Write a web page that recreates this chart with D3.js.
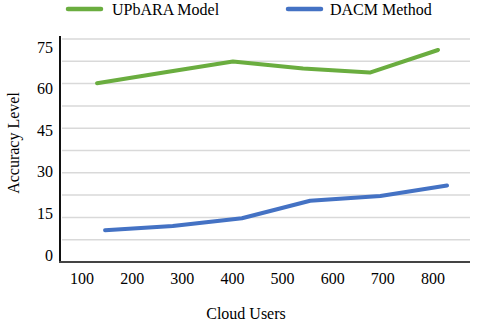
<!DOCTYPE html>
<html>
<head>
<meta charset="utf-8">
<script src="https://cdn.jsdelivr.net/npm/d3@7"></script>
<style>
  body { margin: 0; background: #fff; }
  text { font-family: "Liberation Serif", "Times New Roman", serif; fill: #000; }
</style>
</head>
<body>
<div id="chart"></div>
<script>

// tick labels
var userTicks = [100, 200, 300, 400, 500, 600, 700, 800];
var accTicks = [0, 15, 30, 45, 60, 75];

var upbaraUsers = [130, 266, 401, 541, 674, 810];
var upbaraAcc = [60.1, 63.8, 67.4, 65.1, 63.7, 71.3];

var dacmUsers = [146, 281, 419, 555, 695, 828];
var dacmAcc = [10.7, 12.1, 14.7, 20.6, 22.2, 25.7];

var seriesNames = ["UPbARA Model", "DACM Method"];
var seriesColors = ["#6aad3f", "#4472c4"];

function drawChart() {

	var width = 478;
	var height = 326;

	var svg = d3.select("div#chart")
		.append("svg")
		.attr("width", width)
		.attr("height", height);

	var x = d3.scaleLinear()
		.domain([100, 800])
		.range([82, 433]);

	// grid + lines scale
	var y = d3.scaleLinear()
		.domain([0, 75])
		.range([262, 39]);

	// the tick labels in the figure sit on a slightly tighter spacing
	var yLabel = d3.scaleLinear()
		.domain([0, 75])
		.range([255, 47]);

	// gridlines every 7.5
	var gridVals = d3.range(1, 11).map(function(i) { return i * 7.5; });
	svg.append("g")
		.selectAll("line")
		.data(gridVals)
		.enter()
		.append("line")
		.attr("x1", 62)
		.attr("x2", 470)
		.attr("y1", function(d) { return y(d); })
		.attr("y2", function(d) { return y(d); })
		.style("stroke", "#d9d9d9")
		.style("stroke-width", 1.5);

	// axis lines
	svg.append("line")
		.attr("x1", 60).attr("x2", 60)
		.attr("y1", 36).attr("y2", y(0))
		.style("stroke", "#111")
		.style("stroke-width", 2);

	svg.append("line")
		.attr("x1", 59).attr("x2", 470)
		.attr("y1", y(0)).attr("y2", y(0))
		.style("stroke", "#444")
		.style("stroke-width", 2);

	// y tick labels
	svg.append("g")
		.selectAll("text")
		.data(accTicks)
		.enter()
		.append("text")
		.attr("x", 53)
		.attr("y", function(d) { return yLabel(d); })
		.attr("dy", "0.35em")
		.attr("text-anchor", "end")
		.style("font-size", "16px")
		.text(function(d) { return d; });

	// x tick labels
	svg.append("g")
		.selectAll("text")
		.data(userTicks)
		.enter()
		.append("text")
		.attr("x", function(d) { return x(d); })
		.attr("y", 284)
		.attr("text-anchor", "middle")
		.style("font-size", "16px")
		.text(function(d) { return d; });

	// axis titles
	svg.append("text")
		.attr("x", 246)
		.attr("y", 319)
		.attr("text-anchor", "middle")
		.style("font-size", "16px")
		.text("Cloud Users");

	svg.append("text")
		.attr("transform", "translate(19,143) rotate(-90)")
		.attr("text-anchor", "middle")
		.style("font-size", "16px")
		.text("Accuracy Level");

	// lines
	var line = d3.line()
		.x(function(d) { return x(d[0]); })
		.y(function(d) { return y(d[1]); });

	var series = [
		d3.zip(upbaraUsers, upbaraAcc),
		d3.zip(dacmUsers, dacmAcc)
	];

	svg.append("g")
		.selectAll("path")
		.data(series)
		.enter()
		.append("path")
		.attr("d", line)
		.style("fill", "none")
		.style("stroke", function(d, i) { return seriesColors[i]; })
		.style("stroke-width", 4)
		.style("stroke-linecap", "round")
		.style("stroke-linejoin", "round");

	// legend
	var legendX = [68, 288];
	var legend = svg.append("g")
		.selectAll("g")
		.data(seriesNames)
		.enter()
		.append("g")
		.attr("transform", function(d, i) { return "translate(" + legendX[i] + ",9)"; });

	legend.append("line")
		.attr("x1", 0).attr("x2", 33)
		.attr("y1", 0).attr("y2", 0)
		.style("stroke", function(d, i) { return seriesColors[i]; })
		.style("stroke-width", 4.5)
		.style("stroke-linecap", "round");

	legend.append("text")
		.attr("x", function(d, i) { return i == 0 ? 44 : 42; })
		.attr("y", 0)
		.attr("dy", "0.35em")
		.style("font-size", "16px")
		.text(function(d) { return d; });
}

drawChart();
</script>
</body>
</html>
